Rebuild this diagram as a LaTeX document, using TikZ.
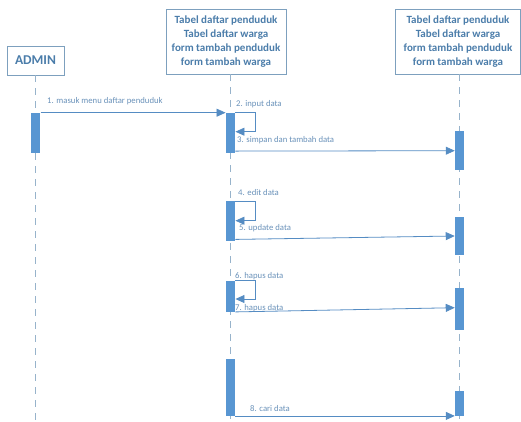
\documentclass[tikz,border=0pt]{standalone}
\usepackage{fontspec}
\setmainfont{Carlito}
\usetikzlibrary{arrows.meta}
\definecolor{garis}{RGB}{125,160,190}
\definecolor{teksbox}{RGB}{75,125,170}
\definecolor{warnaaktif}{RGB}{88,150,210}
\definecolor{warnapesan}{RGB}{85,140,195}
\definecolor{warnaket}{RGB}{105,145,185}
\tikzset{
	objek/.style={draw=garis,line width=0.8pt,fill=white,align=center,inner sep=0pt,
		text=teksbox,font=\bfseries\fontsize{11}{14.2}\selectfont},
	aktivasi/.style={fill=warnaaktif,minimum width=9.5pt,inner sep=0pt,anchor=north},
	hidup/.style={draw=garis!80,dash pattern=on 7pt off 6pt,line width=0.9pt},
	pesan/.style={draw=warnapesan,line width=0.8pt,-{Triangle[length=9pt,width=8pt]}},
	ket/.style={font=\fontsize{8.7}{10}\selectfont,text=warnaket,anchor=base west,inner sep=0pt}
}
\begin{document}
\begin{tikzpicture}[x=1pt,y=-1pt]
	\useasboundingbox (0,0) rectangle (521,421);
	% objek di atas
	\node[objek,minimum width=57pt,minimum height=29pt,
		font=\bfseries\fontsize{13.5}{15}\selectfont] (admin) at (35.5,60.5) {ADMIN};
	\node[objek,minimum width=120pt,minimum height=65pt] (form1) at (226,41.5)
		{Tabel daftar penduduk\\Tabel daftar warga\\form tambah penduduk\\form tambah warga};
	\node[objek,minimum width=125pt,minimum height=65pt] (form2) at (458,41.5)
		{Tabel daftar penduduk\\Tabel daftar warga\\form tambah penduduk\\form tambah warga};
	% garis hidup
	\coordinate (bawah) at (0,421);
	\coordinate (lA) at (35.7,0);
	\coordinate (lM) at (230.5,0);
	\coordinate (lR) at (459.7,0);
	\draw[hidup] (lA |- admin.south) -- (lA |- bawah);
	\draw[hidup] (lM |- form1.south) -- (lM |- bawah);
	\draw[hidup] (lR |- form2.south) -- (lR |- bawah);
	% kotak aktivasi
	\node[aktivasi,minimum height=40.3pt] (aA1) at (35.7,112.7) {};
	\node[aktivasi,minimum height=40.3pt] (aM1) at (230.5,112.7) {};
	\node[aktivasi,minimum height=39pt] (aR1) at (459.7,131) {};
	\node[aktivasi,minimum height=39.7pt] (aM2) at (230.5,201) {};
	\node[aktivasi,minimum height=38.3pt] (aR2) at (459.7,216.7) {};
	\node[aktivasi,minimum height=31.7pt] (aM3) at (230.5,280.3) {};
	\node[aktivasi,minimum height=42pt] (aR3) at (459.7,288) {};
	\node[aktivasi,minimum height=57pt] (aM4) at (230.5,359) {};
	\node[aktivasi,minimum height=25pt] (aR4) at (459.7,391) {};
	% pesan
	\draw[pesan] (aA1.north east) -- (aM1.north west);
	\draw[pesan] (aM1.north east) -- ++(20,0) -- ++(0,19) -- ++(-20,0);
	\draw[pesan] ([yshift=2.3pt]aM1.south east) -- ([yshift=-19.7pt]aR1.north west);
	\draw[pesan] (aM2.north east) -- ++(20,0) -- ++(0,19.7) -- ++(-20,0);
	\draw[pesan] ([yshift=1.7pt]aM2.south east) -- ([yshift=-19.3pt]aR2.north west);
	\draw[pesan] (aM3.north east) -- ++(20,0) -- ++(0,18.7) -- ++(-20,0);
	\draw[pesan] ([yshift=0.5pt]aM3.south east) -- ([yshift=-19.7pt]aR3.north west);
	\draw[pesan] ([yshift=0.5pt]aM4.south east) -- ([yshift=0.5pt]aR4.south west);
	% keterangan pesan
	\node[ket] (t1) at (47,103.5) {1. masuk menu daftar penduduk};
	\node[ket] (t2) at (236,106) {2. input data};
	\node[ket] (t3) at (237,142.5) {3. simpan dan tambah data};
	\node[ket] (t4) at (238,195) {4. edit data};
	\node[ket] (t5) at (239,230.5) {5. update data};
	\node[ket] (t6) at (235,278) {6. hapus data};
	\node[ket] (t7) at (235,310.5) {7. hapus data};
	\node[ket] (t8) at (250,411.5) {8. cari data};
\end{tikzpicture}
\end{document}
